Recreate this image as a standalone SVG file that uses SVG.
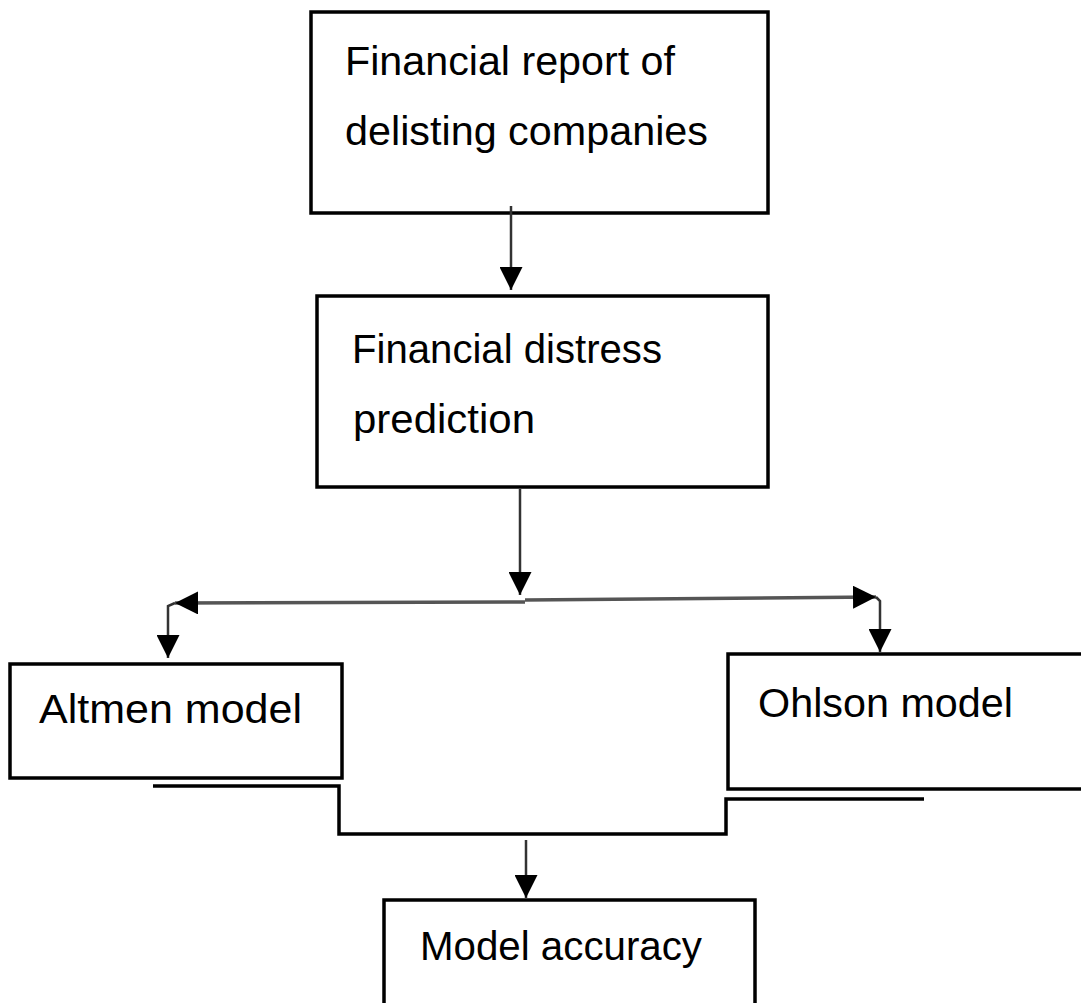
<svg xmlns="http://www.w3.org/2000/svg" width="1081" height="1003" viewBox="0 0 1081 1003">
<defs>
<style>
.box{fill:#fff;stroke:#000;stroke-width:3.5}
.lbl{font-family:"Liberation Sans",Arial,sans-serif;font-size:41px;fill:#000}
.arr{fill:none;stroke:#333;stroke-width:2.5}
.hz{fill:none;stroke:#555;stroke-width:3.5}
.elb{fill:none;stroke:#000;stroke-width:3.5}
</style>
<marker id="ah" viewBox="0 0 10 10" refX="10" refY="5" markerWidth="23" markerHeight="23" markerUnits="userSpaceOnUse" orient="auto">
<path d="M0,0 L10,5 L0,10 Z" fill="#000"/>
</marker>
</defs>
<rect width="1081" height="1003" fill="#fff"/>
<g id="node-report">
<rect class="box" x="311" y="12" width="457" height="201"/>
<text class="lbl" x="345" y="75" textLength="330" lengthAdjust="spacingAndGlyphs">Financial report of</text>
<text class="lbl" x="345" y="145" textLength="363" lengthAdjust="spacingAndGlyphs">delisting companies</text>
</g>
<g id="node-prediction">
<rect class="box" x="317" y="296" width="451" height="191"/>
<text class="lbl" x="352" y="363" textLength="310" lengthAdjust="spacingAndGlyphs">Financial distress</text>
<text class="lbl" x="353" y="433" textLength="182" lengthAdjust="spacingAndGlyphs">prediction</text>
</g>
<g id="node-altmen">
<rect class="box" x="10" y="664" width="332" height="114"/>
<text class="lbl" x="39" y="723" textLength="263" lengthAdjust="spacingAndGlyphs">Altmen model</text>
</g>
<g id="node-ohlson">
<rect class="box" x="728" y="654" width="370" height="135"/>
<text class="lbl" x="758" y="717" textLength="255" lengthAdjust="spacingAndGlyphs">Ohlson model</text>
</g>
<g id="node-accuracy">
<rect class="box" x="384" y="900" width="371" height="120"/>
<text class="lbl" x="420" y="960" textLength="282" lengthAdjust="spacingAndGlyphs">Model accuracy</text>
</g>
<g id="connectors">
<line class="arr" x1="511" y1="206" x2="511" y2="290" marker-end="url(#ah)"/>
<line class="arr" x1="520" y1="489" x2="520" y2="595" marker-end="url(#ah)"/>
<line class="hz" x1="525" y1="602" x2="175" y2="603" marker-end="url(#ah)"/>
<polyline class="arr" points="175,603 168,606 168,658" marker-end="url(#ah)"/>
<line class="hz" x1="525" y1="600" x2="876" y2="597" marker-end="url(#ah)"/>
<polyline class="arr" points="876,597 880,601 880,652" marker-end="url(#ah)"/>
<polyline class="elb" points="153,786 339,786 339,834 726,834 726,799 924,799"/>
<line class="arr" x1="526" y1="840" x2="526" y2="898" marker-end="url(#ah)"/>
</g>
</svg>
